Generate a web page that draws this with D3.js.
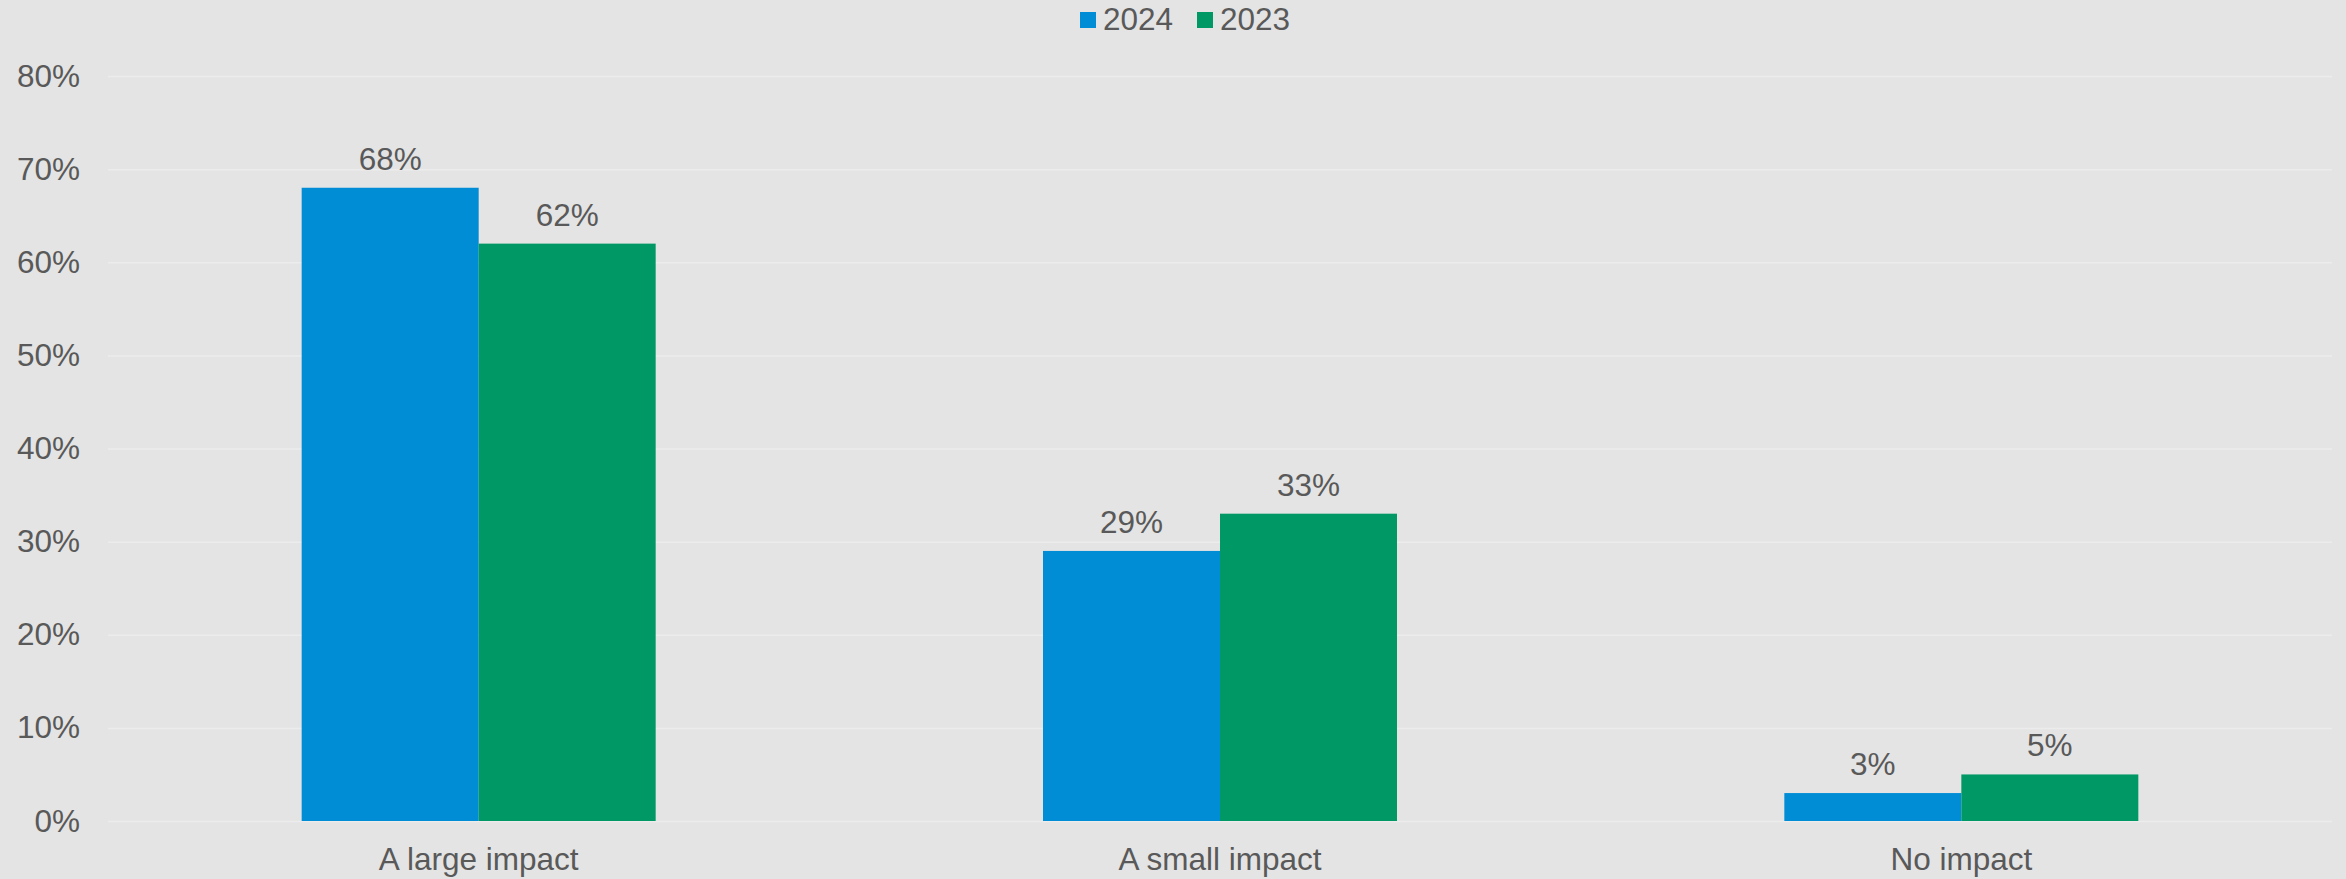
<!DOCTYPE html>
<html><head><meta charset="utf-8">
<script src="https://cdn.jsdelivr.net/npm/d3@7"></script>
<style>
html,body{margin:0;padding:0;background:#e4e4e4;}
svg{display:block;}
text{font-family:"Liberation Sans",Arial,sans-serif;fill:#595959;}
</style></head>
<body>
<svg id="chart" width="2346" height="879"></svg>
<script>
const categories = ["A large impact", "A small impact", "No impact"];
const seriesNames = ["2024", "2023"];
const values2024 = [68, 29, 3];
const values2023 = [62, 33, 5];
const yTicks = [0, 10, 20, 30, 40, 50, 60, 70, 80];
const colors = ["#008dd6", "#009966"];

const FS = 31.5;
const W = 2346, H = 879;
const margin = {left: 108, right: 14, top: 76, bottom: 58};
const svg = d3.select("#chart");
svg.append("rect").attr("width", W).attr("height", H).attr("fill", "#e4e4e4");

const x0 = d3.scaleBand().domain(categories).range([margin.left, W - margin.right]).paddingInner(0).paddingOuter(0);
const y = d3.scaleLinear().domain([0, 80]).range([H - margin.bottom, margin.top]);
const groupW = 354;
const x1 = d3.scaleBand().domain(seriesNames).range([0, groupW]).padding(0);

// gridlines
const yAxis = d3.axisLeft(y).tickValues(yTicks).tickSize(-(W - margin.left - margin.right)).tickFormat(d => d + "%").tickPadding(28);
const gy = svg.append("g").attr("transform", `translate(${margin.left},0)`).call(yAxis);
gy.select(".domain").remove();
gy.selectAll(".tick line").attr("stroke", "#ececec").attr("stroke-width", 1.5);
gy.selectAll(".tick text").attr("font-size", FS).attr("fill", "#595959");

const data = categories.map((c, i) => ({cat: c, vals: [
  {s: seriesNames[0], v: values2024[i], c: colors[0]},
  {s: seriesNames[1], v: values2023[i], c: colors[1]}
]}));

const groups = svg.append("g").selectAll("g").data(data).join("g")
  .attr("transform", d => `translate(${x0(d.cat) + x0.bandwidth() / 2 - groupW / 2},0)`);

groups.selectAll("rect").data(d => d.vals).join("rect")
  .attr("x", d => x1(d.s)).attr("width", x1.bandwidth())
  .attr("y", d => y(d.v)).attr("height", d => y(0) - y(d.v))
  .attr("fill", d => d.c);

groups.selectAll("text.val").data(d => d.vals).join("text").attr("class", "val")
  .attr("x", d => x1(d.s) + x1.bandwidth() / 2)
  .attr("y", d => y(d.v) - 18)
  .attr("text-anchor", "middle").attr("font-size", FS)
  .text(d => d.v + "%");

// x axis labels
const xAxis = d3.axisBottom(x0).tickSize(0).tickPadding(0);
const gx = svg.append("g").attr("transform", `translate(0,${y(0)})`).call(xAxis);
gx.select(".domain").remove();
gx.selectAll(".tick text").attr("font-size", FS).attr("fill", "#595959").attr("dy", null).attr("y", 49);

// legend
const legend = svg.append("g");
const legendX = [1080, 1197];
seriesNames.forEach((s, i) => {
  legend.append("rect").attr("x", legendX[i]).attr("y", 12).attr("width", 16).attr("height", 16).attr("fill", colors[i]);
  legend.append("text").attr("x", legendX[i] + 23).attr("y", 29.5).attr("font-size", FS).text(s);
});
</script>
</body></html>
